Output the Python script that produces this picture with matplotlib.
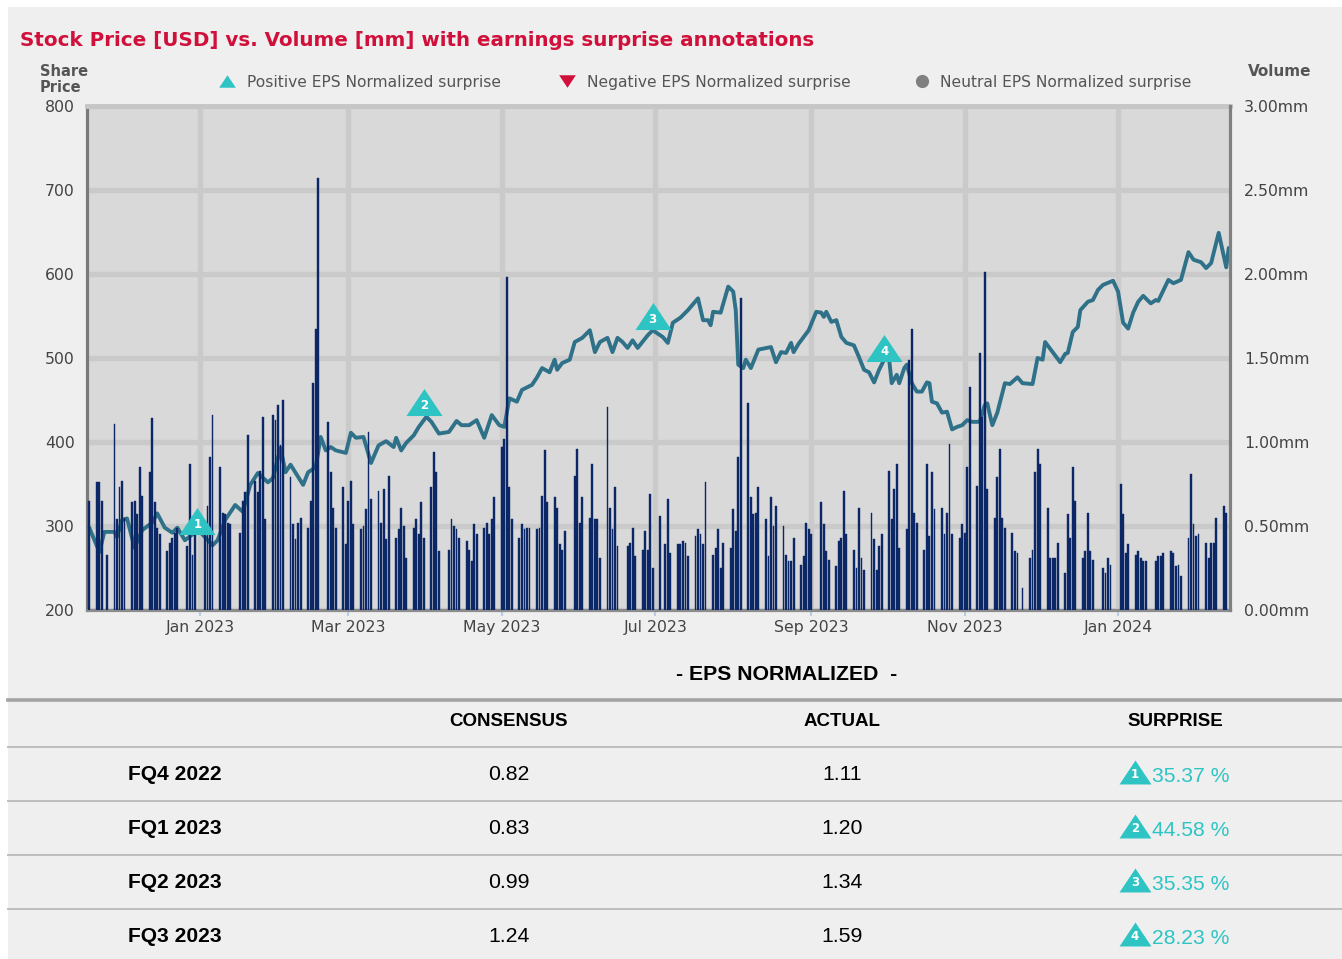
import numpy as np
import pandas as pd
import matplotlib
matplotlib.use('Agg')
import matplotlib.pyplot as plt
import matplotlib.dates as mdates
from matplotlib.lines import Line2D
from matplotlib.patches import Rectangle
from matplotlib.ticker import FuncFormatter, FixedLocator
from matplotlib.transforms import offset_copy

W, H = 1342, 959


def fx(px):
    return px / W


def fy(py):
    return 1 - py / H


# ---------------------------------------------------------------- data
# share price: days counted from PRICE_BASE, price in USD
PRICE_BASE = pd.Timestamp('2023-01-01')
price_day = [-44, -40, -38, -34, -33, -31, -29, -26, -23, -19, -17, -14, -11, -9, -6, -3,
             0, 5, 7, 10, 14, 17, 20, 23, 27, 29, 32, 34, 36, 41, 43, 46, 48, 50, 52, 54,
             58, 60, 62, 65, 68, 71, 74, 77, 78, 80, 82, 85, 87, 90, 92, 95, 99, 102, 104,
             107, 110, 113, 116, 119, 121, 123, 126, 128, 132, 134, 136, 139, 141, 142, 144,
             147, 149, 152, 155, 157, 159, 162, 164, 166, 168, 170, 172, 174, 178, 180, 184,
             186, 188, 191, 194, 198, 200, 202, 203, 204, 207, 210, 212, 213, 214, 216, 217,
             219, 222, 227, 229, 231, 233, 235, 236, 238, 240, 242, 245, 247, 248, 249, 251,
             253, 255, 257, 260, 262, 264, 266, 268, 270, 272, 274, 275, 277, 278, 280, 281,
             283, 285, 287, 289, 290, 291, 293, 295, 297, 299, 301, 303, 305, 307, 310, 312,
             313, 315, 317, 320, 322, 325, 327, 331, 333, 335, 336, 339, 342, 344, 345, 347,
             349, 350, 353, 355, 357, 359, 363, 365, 367, 369, 371, 373, 375, 378, 380, 381,
             385, 387, 390, 393, 395, 398, 400, 402, 405, 408, 409]
price_usd = [298, 269, 293, 293, 287, 307, 309, 274, 295, 304, 315, 298, 292, 298, 283, 290,
             293, 277, 283, 307, 325, 317, 349, 363, 352, 357, 393, 364, 373, 349, 364, 370,
             406, 390, 394, 390, 387, 411, 405, 406, 375, 396, 401, 394, 405, 390, 399, 408,
             418, 430, 424, 410, 412, 425, 420, 420, 426, 405, 432, 420, 418, 452, 448, 462,
             468, 477, 488, 483, 498, 486, 494, 498, 519, 524, 533, 507, 519, 524, 507, 524,
             519, 512, 521, 512, 527, 533, 525, 518, 542, 548, 557, 571, 545, 545, 539, 555,
             554, 585, 579, 557, 492, 488, 498, 488, 510, 513, 495, 507, 506, 518, 507, 517,
             525, 533, 555, 554, 549, 555, 543, 545, 525, 518, 515, 501, 486, 483, 471, 486,
             498, 498, 470, 480, 470, 488, 492, 470, 460, 460, 471, 470, 448, 446, 435, 436,
             415, 418, 420, 426, 424, 424, 444, 446, 420, 435, 470, 469, 477, 470, 469, 500,
             498, 519, 507, 495, 505, 506, 531, 537, 557, 567, 569, 581, 587, 592, 579, 542,
             535, 554, 567, 574, 565, 569, 568, 593, 589, 593, 626, 617, 614, 607, 613, 649,
             608, 631]

# daily traded volume (mm shares), one value per trading session from volume_start
volume_start = '2022-11-18'
market_holidays = ['2022-11-24', '2022-12-26', '2023-01-02', '2023-01-16', '2023-02-20',
                   '2023-04-07', '2023-05-29', '2023-06-19', '2023-07-04', '2023-09-04',
                   '2023-11-23', '2023-12-25', '2024-01-01', '2024-01-15']
volume_mm = [
    0.65, 0.76, 0.76, 0.65, 0.33, 1.11, 0.54, 0.73, 0.77, 0.55,
    0.64, 0.65, 0.57, 0.85, 0.68, 0.82, 1.14, 0.64, 0.49, 0.45,
    0.35, 0.40, 0.43, 0.46, 0.49, 0.38, 0.87, 0.33, 0.46, 0.49,
    0.62, 0.91, 1.16, 0.85, 0.58, 0.57, 0.52, 0.51, 0.46, 0.65,
    0.70, 1.04, 0.77, 0.70, 0.83, 1.15, 0.54, 1.16, 1.13, 1.22,
    0.98, 1.25, 0.79, 0.51, 0.42, 0.52, 0.55, 0.49, 0.65, 1.35,
    1.67, 2.57, 1.12, 0.82, 0.61, 0.49, 0.73, 0.39, 0.65, 0.77,
    0.51, 0.48, 0.50, 0.60, 1.06, 0.66,
    0.71, 0.52, 0.72, 0.42, 0.80, 0.43, 0.48, 0.61, 0.50,
    0.31, 0.49, 0.54, 0.45, 0.64, 0.43, 0.73, 0.94, 0.82, 0.35,
    0.36, 0.54, 0.50, 0.48, 0.43, 0.41, 0.36, 0.29, 0.51, 0.45,
    0.49, 0.52, 0.45, 0.54, 0.67, 0.97, 1.02, 1.98, 0.73, 0.54,
    0.43, 0.51, 0.48, 0.49, 0.49, 0.48, 0.49, 0.68, 0.95, 0.64,
    0.67, 0.61, 0.39, 0.36, 0.47, 0.80, 0.96, 0.52, 0.67, 0.55,
    0.87, 0.54, 0.54, 0.31, 1.21, 0.61, 0.48, 0.73, 0.38, 0.38,
    0.40, 0.49, 0.32, 0.36, 0.47, 0.36, 0.69, 0.25,
    0.56, 0.39, 0.66, 0.34, 0.39, 0.39, 0.41, 0.40, 0.32, 0.44,
    0.48, 0.45, 0.39, 0.76, 0.33, 0.37, 0.48, 0.25, 0.40, 0.37,
    0.60, 0.47, 0.91, 1.86, 1.23, 0.67, 0.57, 0.58, 0.73, 0.54,
    0.32, 0.67, 0.50, 0.62, 0.50, 0.33, 0.29, 0.29, 0.43, 0.27,
    0.32, 0.52, 0.48, 0.45, 0.64, 0.51, 0.35, 0.30, 0.26, 0.41,
    0.43, 0.71, 0.45, 0.36, 0.25, 0.61, 0.31, 0.24, 0.58, 0.42,
    0.24, 0.38, 0.45, 0.83, 0.54, 0.72, 0.87, 0.37, 0.48, 1.49,
    1.67, 0.58, 0.52, 0.36, 0.87, 0.44, 0.82, 0.60,
    0.61, 0.45, 0.58, 0.99, 0.45, 0.43, 0.51, 0.46, 0.85, 1.33,
    0.74, 1.53, 1.15, 2.01, 0.72, 0.55, 0.79, 0.96, 0.55, 0.49,
    0.46, 0.35, 0.34, 0.13, 0.31, 0.36, 0.82, 0.96, 0.87, 0.61,
    0.31, 0.31, 0.31, 0.40, 0.22, 0.57, 0.43, 0.85, 0.65, 0.31,
    0.35, 0.58, 0.35, 0.30, 0.25, 0.22, 0.31, 0.27, 0.75, 0.57,
    0.34, 0.39, 0.33, 0.35, 0.31, 0.29, 0.29, 0.29, 0.32, 0.32,
    0.34, 0.35, 0.34, 0.26, 0.27, 0.20, 0.43, 0.81, 0.51, 0.44,
    0.45, 0.40, 0.31, 0.40, 0.40, 0.55, 0.62, 0.58,
]

# earnings surprise annotations (fiscal quarter ends)
quarters = ['FQ4 2022', 'FQ1 2023', 'FQ2 2023', 'FQ3 2023']
quarter_end = ['2022-12-31', '2023-03-31', '2023-06-30', '2023-09-30']
quarter_price = [290, 431, 534, 496]
consensus = [0.82, 0.83, 0.99, 1.24]
actual = [1.11, 1.20, 1.34, 1.59]
surprise_pct = [35.37, 44.58, 35.35, 28.23]

price_ticks = [200, 300, 400, 500, 600, 700, 800]
volume_ticks = [0.0, 0.5, 1.0, 1.5, 2.0, 2.5, 3.0]
x_range = ['2022-11-17 02:00', '2024-02-14 12:00']

legend_labels = ['Positive EPS Normalized surprise', 'Negative EPS Normalized surprise',
                 'Neutral EPS Normalized surprise']
table_headers = ['CONSENSUS', 'ACTUAL', 'SURPRISE']

# ---------------------------------------------------------------- style
BG = '#efefef'
PLOT_BG = '#d9d9d9'
GRID = '#cacaca'
LINE_C = '#2f7188'
BAR_C = '#0c2766'
TURQ = '#2ec4c4'
RED = '#d0103a'
TXT = '#444444'
SANS = ['DejaVu Sans']
ARIAL = ['Liberation Sans', 'DejaVu Sans']
TRI = [(-1, -0.75), (1, -0.75), (0, 0.75), (-1, -0.75)]
TRI_DOWN = [(-1, 0.75), (1, 0.75), (0, -0.75), (-1, 0.75)]

plt.rcParams['font.family'] = ['DejaVu Sans']

fig = plt.figure(figsize=(W / 100, H / 100), dpi=100)
fig.patch.set_facecolor('white')
fig.add_artist(Rectangle((fx(8), 0), 1 - fx(8), fy(7), transform=fig.transFigure,
                         facecolor=BG, edgecolor='none', zorder=-10))

ax = fig.add_axes([fx(87), fy(610), fx(1230) - fx(87), fy(106) - fy(610)])
ax.set_facecolor(PLOT_BG)
ax2 = ax.twinx()

price_dates = PRICE_BASE + pd.to_timedelta(price_day, unit='D')
vol_dates = pd.bdate_range(start=volume_start, periods=len(volume_mm), freq='C',
                           holidays=market_holidays)

ax.plot(price_dates, price_usd, color=LINE_C, lw=2.8, solid_joinstyle='round',
        solid_capstyle='round', zorder=3)
ax2.bar(vol_dates, volume_mm, width=0.74, color=BAR_C, edgecolor=BAR_C, linewidth=0.3,
        zorder=2)

# surprise triangles (drawn above the bars, anchored on the price line)
qx = mdates.date2num(pd.to_datetime(quarter_end))
ms = 26
tri_tr = offset_copy(ax.transData, fig=fig, x=0, y=0.375 * ms, units='points')
num_tr = offset_copy(ax.transData, fig=fig, x=0, y=7.2, units='points')
ax2.plot(qx, quarter_price, linestyle='none', marker=TRI, markersize=ms,
         color=TURQ, markeredgewidth=0, transform=tri_tr, zorder=6, clip_on=False)
for i, (xv, yv) in enumerate(zip(qx, quarter_price)):
    ax2.text(xv, yv, str(i + 1), transform=num_tr, color='white', fontsize=8.5,
             fontweight='bold', ha='center', va='center', zorder=7, family=SANS)

# axes limits / ticks
ax.set_ylim(200, 800)
ax2.set_ylim(0, 3.0)
ax.set_xlim(pd.Timestamp(x_range[0]), pd.Timestamp(x_range[1]))
ax.yaxis.set_major_locator(FixedLocator(price_ticks))
ax2.yaxis.set_major_locator(FixedLocator(volume_ticks))
ax2.yaxis.set_major_formatter(FuncFormatter(lambda v, p: f'{v:.2f}mm'))
ax.xaxis.set_major_locator(mdates.MonthLocator(bymonth=[1, 3, 5, 7, 9, 11]))
ax.xaxis.set_major_formatter(mdates.DateFormatter('%b %Y'))

ax.grid(True, axis='both', color=GRID, lw=3.8, zorder=0)
ax.set_axisbelow(True)

ax.tick_params(axis='y', length=0, pad=9, labelsize=11.3, labelcolor=TXT)
ax2.tick_params(axis='y', length=0, pad=10, labelsize=11.3, labelcolor=TXT)
ax.tick_params(axis='x', length=4, width=1.5, color='#b9cde5', pad=3,
               labelsize=11.3, labelcolor=TXT)
for t in ax.get_yticklabels() + ax2.get_yticklabels() + ax.get_xticklabels():
    t.set_family(SANS)

ax.spines['right'].set_visible(False)
ax.spines['top'].set_color('#c6c6c6')
ax.spines['top'].set_linewidth(3.5)
ax.spines['left'].set_color('#7a7a7a')
ax.spines['left'].set_linewidth(2.3)
ax.spines['bottom'].set_color('#8c8c8c')
ax.spines['bottom'].set_linewidth(2.3)
for s in ['top', 'left', 'bottom']:
    ax2.spines[s].set_visible(False)
ax2.spines['right'].set_color('#808080')
ax2.spines['right'].set_linewidth(2.3)

# ---------------------------------------------------------------- header texts
fig.text(fx(20), fy(41), 'Stock Price [USD] vs. Volume [mm] with earnings surprise annotations',
         color=RED, fontsize=14.3, fontweight='bold', ha='left', va='center', family=SANS)
fig.text(fx(40), fy(71), 'Share', color='#555555', fontsize=10.5, fontweight='bold',
         ha='left', va='center', family=SANS)
fig.text(fx(40), fy(87), 'Price', color='#555555', fontsize=10.5, fontweight='bold',
         ha='left', va='center', family=SANS)
fig.text(fx(1248), fy(71), 'Volume', color='#555555', fontsize=11, fontweight='bold',
         ha='left', va='center', family=SANS)

leg_marks = [(227, TRI, TURQ, 12), (567, TRI_DOWN, RED, 12), (922, 'o', '#808080', 9.5)]
leg_text_x = [247, 587, 940]
for (mx, mk, mc, msz), tx, lab in zip(leg_marks, leg_text_x, legend_labels):
    fig.add_artist(Line2D([fx(mx)], [fy(81)], transform=fig.transFigure, marker=mk,
                          markersize=msz, color=mc, markeredgewidth=0, linestyle='none'))
    fig.text(fx(tx), fy(82), lab, color='#555555', fontsize=11.2, ha='left', va='center',
             family=SANS)

# ---------------------------------------------------------------- table
fig.text(fx(787), fy(674), '- EPS NORMALIZED  -', color='black', fontsize=15.3,
         fontweight='bold', ha='center', va='center', family=ARIAL)
fig.add_artist(Line2D([fx(8), 1], [fy(700), fy(700)], transform=fig.transFigure,
                      color='#a3a3a3', lw=2.6))
col_x = [509, 842, 1175]
for cx, h in zip(col_x, table_headers):
    fig.text(fx(cx), fy(722), h, color='black', fontsize=13.5, fontweight='bold',
             ha='center', va='center', family=ARIAL)
for ly in [747, 801, 855, 909]:
    fig.add_artist(Line2D([fx(8), 1], [fy(ly), fy(ly)], transform=fig.transFigure,
                          color='#bdbdbd', lw=1.4))
row_y = [775, 829, 883, 937]
for i, ry in enumerate(row_y):
    fig.text(fx(128), fy(ry), quarters[i], color='black', fontsize=15.1, fontweight='bold',
             ha='left', va='center', family=ARIAL)
    fig.text(fx(col_x[0]), fy(ry), f'{consensus[i]:.2f}', color='black', fontsize=15.3,
             ha='center', va='center', family=ARIAL)
    fig.text(fx(col_x[1]), fy(ry), f'{actual[i]:.2f}', color='black', fontsize=15.3,
             ha='center', va='center', family=ARIAL)
    fig.add_artist(Line2D([fx(1135)], [fy(ry - 3)], transform=fig.transFigure, marker=TRI,
                          markersize=23, color=TURQ, markeredgewidth=0, linestyle='none'))
    fig.text(fx(1135), fy(ry - 1), str(i + 1), color='white', fontsize=8.5, fontweight='bold',
             ha='center', va='center', family=SANS)
    fig.text(fx(1152), fy(ry + 1), f'{surprise_pct[i]:.2f} %', color=TURQ, fontsize=15.2,
             ha='left', va='center', family=ARIAL)

fig.savefig('out.png', dpi=100, facecolor=fig.get_facecolor())
